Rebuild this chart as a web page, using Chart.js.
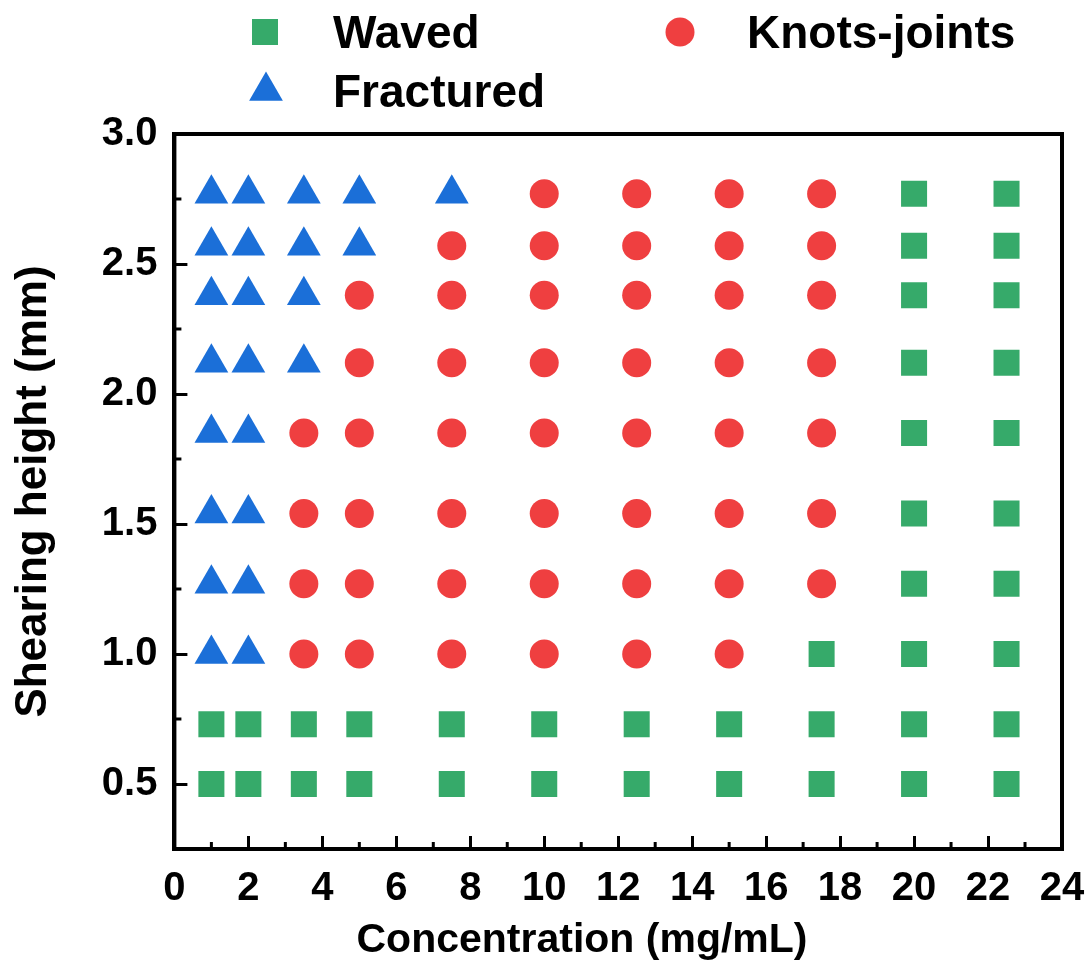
<!DOCTYPE html>
<html>
<head>
<meta charset="utf-8">
<script src="https://cdn.jsdelivr.net/npm/chart.js@4.4.0/dist/chart.umd.min.js"></script>
<style>
  html, body { margin: 0; padding: 0; background: #fff; }
</style>
</head>
<body>
<canvas id="grafico" width="1091" height="976"></canvas>
<script>
// Pontos de cada tipo: concentração (mg/mL) x altura de cisalhamento (mm)
const wavedX = [20, 22.5, 20, 22.5, 20, 22.5, 20, 22.5, 20, 22.5, 20, 22.5, 20, 22.5,
  17.5, 20, 22.5,
  1, 2, 3.5, 5, 7.5, 10, 12.5, 15, 17.5, 20, 22.5,
  1, 2, 3.5, 5, 7.5, 10, 12.5, 15, 17.5, 20, 22.5];
const wavedY = [2.77, 2.77, 2.57, 2.57, 2.38, 2.38, 2.12, 2.12, 1.85, 1.85, 1.54, 1.54, 1.27, 1.27,
  1.0, 1.0, 1.0,
  0.73, 0.73, 0.73, 0.73, 0.73, 0.73, 0.73, 0.73, 0.73, 0.73, 0.73,
  0.5, 0.5, 0.5, 0.5, 0.5, 0.5, 0.5, 0.5, 0.5, 0.5, 0.5];

const knotsX = [10, 12.5, 15, 17.5,
  7.5, 10, 12.5, 15, 17.5,
  5, 7.5, 10, 12.5, 15, 17.5,
  5, 7.5, 10, 12.5, 15, 17.5,
  3.5, 5, 7.5, 10, 12.5, 15, 17.5,
  3.5, 5, 7.5, 10, 12.5, 15, 17.5,
  3.5, 5, 7.5, 10, 12.5, 15, 17.5,
  3.5, 5, 7.5, 10, 12.5, 15];
const knotsY = [2.77, 2.77, 2.77, 2.77,
  2.57, 2.57, 2.57, 2.57, 2.57,
  2.38, 2.38, 2.38, 2.38, 2.38, 2.38,
  2.12, 2.12, 2.12, 2.12, 2.12, 2.12,
  1.85, 1.85, 1.85, 1.85, 1.85, 1.85, 1.85,
  1.54, 1.54, 1.54, 1.54, 1.54, 1.54, 1.54,
  1.27, 1.27, 1.27, 1.27, 1.27, 1.27, 1.27,
  1.0, 1.0, 1.0, 1.0, 1.0, 1.0];

const fracturedX = [1, 2, 3.5, 5, 7.5,
  1, 2, 3.5, 5,
  1, 2, 3.5,
  1, 2, 3.5,
  1, 2, 1, 2, 1, 2, 1, 2];
const fracturedY = [2.77, 2.77, 2.77, 2.77, 2.77,
  2.57, 2.57, 2.57, 2.57,
  2.38, 2.38, 2.38,
  2.12, 2.12, 2.12,
  1.85, 1.85, 1.54, 1.54, 1.27, 1.27, 1.0, 1.0];

const xTicks = [0, 2, 4, 6, 8, 10, 12, 14, 16, 18, 20, 22, 24];
const yTicks = [0.5, 1.0, 1.5, 2.0, 2.5, 3.0];
const xMinor = [1, 3, 5, 7, 9, 11, 13, 15, 17, 19, 21, 23];
const yMinor = [0.75, 1.25, 1.75, 2.25, 2.75];

const tituloX = 'Concentration (mg/mL)';
const tituloY = 'Shearing height (mm)';

const fonte = '"Liberation Sans", Arial, sans-serif';

// junta x e y no formato que o Chart.js espera
function monta(xs, ys) {
  return xs.map((x, i) => ({ x: x, y: ys[i] }));
}

// Legenda desenhada à mão, em duas colunas como no original
const legendaPlugin = {
  id: 'legenda',
  afterDraw(chart, args, opts) {
    const ctx = chart.ctx;
    ctx.save();
    chart.data.datasets.forEach((ds, i) => {
      const p = opts.posicoes[i];
      ctx.fillStyle = ds.backgroundColor;
      Chart.helpers.drawPoint(ctx, {
        pointStyle: ds.pointStyle,
        radius: ds.pointRadius,
        rotation: 0,
        borderWidth: 0
      }, p.x, p.y);
      ctx.fillStyle = '#000';
      ctx.font = 'bold 46px ' + fonte;
      ctx.textAlign = 'left';
      ctx.textBaseline = 'alphabetic';
      ctx.fillText(ds.label, p.tx, p.ty);
    });
    // título do eixo x (no original fica um pouco à esquerda do centro)
    ctx.font = 'bold 41px ' + fonte;
    ctx.textAlign = 'center';
    ctx.fillText(tituloX, opts.tituloX.x, opts.tituloX.y);
    ctx.restore();
  }
};

// Moldura e ticks menores (voltados para dentro)
const molduraPlugin = {
  id: 'moldura',
  afterDraw(chart) {
    const ctx = chart.ctx;
    const area = chart.chartArea;
    const sx = chart.scales.x;
    const sy = chart.scales.y;
    ctx.save();
    ctx.strokeStyle = '#000';
    ctx.lineWidth = 4;
    ctx.strokeRect(area.left, area.top, area.right - area.left, area.bottom - area.top);
    ctx.lineWidth = 3;
    ctx.beginPath();
    xMinor.forEach(v => {
      const px = sx.getPixelForValue(v);
      ctx.moveTo(px, area.bottom);
      ctx.lineTo(px, area.bottom - 7);
    });
    yMinor.forEach(v => {
      const py = sy.getPixelForValue(v);
      ctx.moveTo(area.left, py);
      ctx.lineTo(area.left + 7, py);
    });
    ctx.stroke();
    ctx.restore();
  }
};

const config = {
  type: 'scatter',
  data: {
    datasets: [
      {
        label: 'Waved',
        data: monta(wavedX, wavedY),
        pointStyle: 'rect',
        pointRadius: 18.4,
        backgroundColor: '#36aa6a',
        borderWidth: 0
      },
      {
        label: 'Knots-joints',
        data: monta(knotsX, knotsY),
        pointStyle: 'circle',
        pointRadius: 14.5,
        backgroundColor: '#ef3f40',
        borderWidth: 0
      },
      {
        label: 'Fractured',
        data: monta(fracturedX, fracturedY),
        pointStyle: 'triangle',
        pointRadius: 19.5,
        backgroundColor: '#1b6fd8',
        borderWidth: 0
      }
    ]
  },
  options: {
    responsive: false,
    animation: false,
    devicePixelRatio: 1,
    layout: {
      padding: { top: 134, right: 29, left: 7, bottom: 35 }
    },
    plugins: {
      legend: { display: false },
      tooltip: { enabled: false },
      legenda: {
        posicoes: [
          { x: 265, y: 32, tx: 333, ty: 48 },
          { x: 680, y: 32, tx: 747, ty: 48 },
          { x: 266, y: 91, tx: 333, ty: 107 }
        ],
        tituloX: { x: 582, y: 952 }
      }
    },
    scales: {
      x: {
        type: 'linear',
        min: 0,
        max: 24,
        afterBuildTicks: scale => { scale.ticks = xTicks.map(v => ({ value: v })); },
        // sem folga extra à direita por causa do rótulo "24"
        afterFit: scale => { scale.paddingLeft = 0; scale.paddingRight = 0; },
        border: { display: true, color: '#000', width: 4 },
        grid: { drawOnChartArea: false, drawTicks: true, tickLength: -13, tickWidth: 3, tickColor: '#000' },
        ticks: {
          color: '#000',
          padding: 28.5,
          maxRotation: 0,
          autoSkip: false,
          font: { family: fonte, size: 40, weight: 'bold' }
        },
        title: { display: false }
      },
      y: {
        type: 'linear',
        min: 0.25,
        max: 3.0,
        afterBuildTicks: scale => { scale.ticks = yTicks.map(v => ({ value: v })); },
        border: { display: true, color: '#000', width: 4 },
        grid: { drawOnChartArea: false, drawTicks: true, tickLength: -13, tickWidth: 3, tickColor: '#000' },
        ticks: {
          color: '#000',
          padding: 30,
          autoSkip: false,
          font: { family: fonte, size: 40, weight: 'bold' },
          callback: v => Number(v).toFixed(1)
        },
        title: {
          display: true,
          text: tituloY,
          color: '#000',
          padding: { top: 0, bottom: 12 },
          font: { family: fonte, size: 44, weight: 'bold' }
        }
      }
    }
  },
  plugins: [molduraPlugin, legendaPlugin]
};

const grafico = new Chart(document.getElementById('grafico'), config);
</script>
</body>
</html>
